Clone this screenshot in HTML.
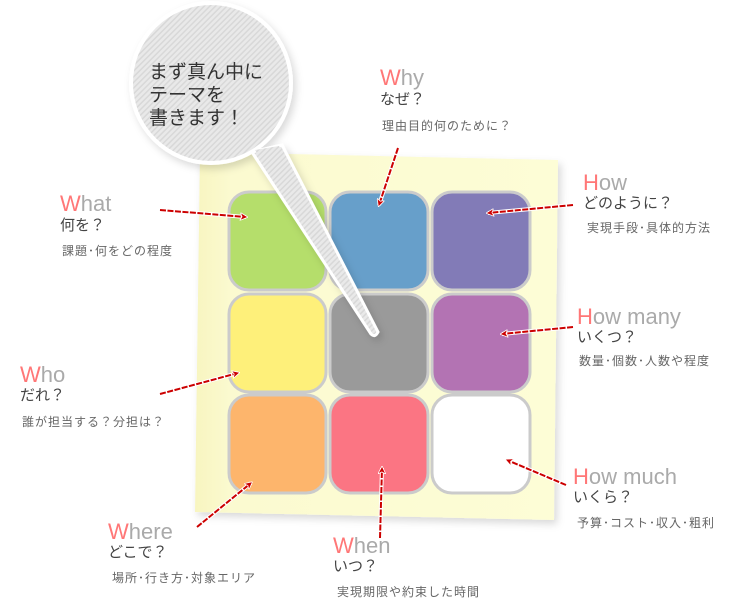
<!DOCTYPE html>
<html><head><meta charset="utf-8"><style>
html,body{margin:0;padding:0;background:#fff;width:749px;height:610px;overflow:hidden}
svg{display:block}
.t{font-family:"Liberation Sans","Noto Sans CJK JP",sans-serif}
</style></head><body>
<svg width="749" height="610" viewBox="0 0 749 610" xmlns="http://www.w3.org/2000/svg">
<defs>
<pattern id="hatch" width="4" height="4" patternUnits="userSpaceOnUse" patternTransform="rotate(45)">
<rect width="4" height="4" fill="#e9e9e9"/><rect width="1.5" height="4" fill="#d8d8d8"/>
</pattern>
<linearGradient id="note" x1="0" x2="1" y1="0" y2="0">
<stop offset="0" stop-color="#f8f5c0"/><stop offset="0.1" stop-color="#fbfad0"/><stop offset="1" stop-color="#fdfdd6"/>
</linearGradient>
<filter id="sh" x="-10%" y="-10%" width="130%" height="130%"><feDropShadow dx="3" dy="4" stdDeviation="4" flood-color="#000" flood-opacity="0.15"/></filter>
<marker id="ah" markerWidth="8" markerHeight="8" refX="6" refY="4" orient="auto" markerUnits="userSpaceOnUse"><path d="M0,0 L8,4 L0,8 L2,4z" fill="#c00" stroke="#fff" stroke-width="0.8"/></marker>
</defs>
<polygon points="200,152 558,160 554,520 195,512" fill="url(#note)" filter="url(#sh)"/>
<g stroke="#cbcbcb" stroke-width="3">
<rect x="229" y="192" width="97" height="98" rx="20" fill="#b5de6b"/>
<rect x="330" y="192" width="98" height="98" rx="20" fill="#679fca"/>
<rect x="432" y="192" width="98" height="98" rx="20" fill="#827bb7"/>
<rect x="229" y="294" width="97" height="98" rx="20" fill="#fef07a"/>
<rect x="330" y="294" width="98" height="98" rx="20" fill="#9a9a9a"/>
<rect x="432" y="294" width="98" height="98" rx="20" fill="#b373b3"/>
<rect x="229" y="395" width="97" height="98" rx="20" fill="#fdb56c"/>
<rect x="330" y="395" width="98" height="98" rx="20" fill="#fb7583"/>
<rect x="432" y="395" width="98" height="98" rx="20" fill="#ffffff"/>
</g>
<g filter="url(#sh)">
<path d="M252,152 L371,334 Q375,338 378,332 L282,145 Z" fill="url(#hatch)" stroke="#fff" stroke-width="3"/>
<circle cx="211" cy="83" r="80" fill="url(#hatch)" stroke="#fff" stroke-width="4"/>
<path d="M255,150 L372,332 L279,146 Z" fill="url(#hatch)"/>
</g>
<text class="t" font-size="19" fill="#333"><tspan x="149" y="78">まず真ん中に</tspan><tspan x="149" y="101">テーマを</tspan><tspan x="149" y="124">書きます！</tspan></text>
<g stroke="#fff" stroke-width="4" fill="none">
<line x1="160" y1="210" x2="246" y2="217"/><line x1="398" y1="148" x2="379" y2="205"/>
<line x1="573" y1="205" x2="488" y2="213"/><line x1="573" y1="327" x2="502" y2="334"/>
<line x1="160" y1="394" x2="238" y2="373"/><line x1="566" y1="485" x2="507" y2="460"/>
<line x1="197" y1="527" x2="251" y2="483"/><line x1="380" y1="538" x2="382" y2="468"/>
</g>
<g stroke="#c00" stroke-width="2" stroke-dasharray="6,1.5" fill="none" marker-end="url(#ah)">
<line x1="160" y1="210" x2="246" y2="217"/><line x1="398" y1="148" x2="379" y2="205"/>
<line x1="573" y1="205" x2="488" y2="213"/><line x1="573" y1="327" x2="502" y2="334"/>
<line x1="160" y1="394" x2="238" y2="373"/><line x1="566" y1="485" x2="507" y2="460"/>
<line x1="197" y1="527" x2="251" y2="483"/><line x1="380" y1="538" x2="382" y2="468"/>
</g>
<g class="t">
<g font-size="22" fill="#aaa"><text x="60" y="211"><tspan fill="#f77">W</tspan>hat</text>
<text x="20" y="382"><tspan fill="#f77">W</tspan>ho</text>
<text x="380" y="85"><tspan fill="#f77">W</tspan>hy</text>
<text x="583" y="190"><tspan fill="#f77">H</tspan>ow</text>
<text x="577" y="324"><tspan fill="#f77">H</tspan>ow many</text>
<text x="573" y="484"><tspan fill="#f77">H</tspan>ow much</text>
<text x="108" y="539"><tspan fill="#f77">W</tspan>here</text>
<text x="333" y="553"><tspan fill="#f77">W</tspan>hen</text></g>
<g font-size="15" fill="#444">
<text x="60" y="230">何を？</text><text x="20" y="400">だれ？</text><text x="380" y="104">なぜ？</text>
<text x="583" y="208">どのように？</text><text x="577" y="342">いくつ？</text><text x="573" y="502">いくら？</text>
<text x="108" y="557">どこで？</text><text x="333" y="571">いつ？</text></g>
<g font-size="12" fill="#666" letter-spacing="1">
<text x="62" y="255">課題･何をどの程度</text><text x="22" y="426">誰が担当する？分担は？</text>
<text x="382" y="130">理由目的何のために？</text><text x="587" y="232">実現手段･具体的方法</text>
<text x="579" y="365">数量･個数･人数や程度</text><text x="577" y="527">予算･コスト･収入･粗利</text>
<text x="112" y="582">場所･行き方･対象エリア</text><text x="337" y="596">実現期限や約束した時間</text></g>
</g>
</svg>
</body></html>
